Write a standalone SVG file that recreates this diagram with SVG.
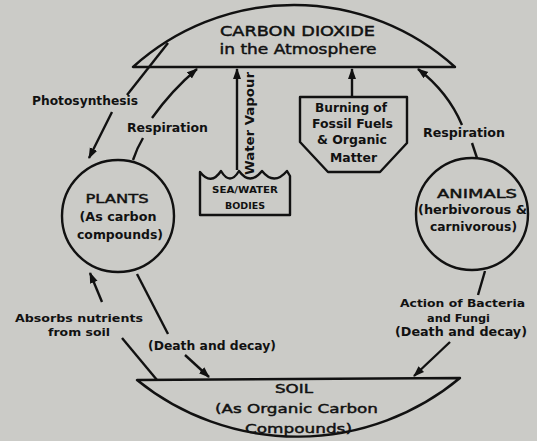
<svg xmlns="http://www.w3.org/2000/svg" width="537" height="441" viewBox="0 0 537 441">
<defs>
<marker id="ah" markerWidth="12" markerHeight="10" refX="10" refY="4" orient="auto" markerUnits="userSpaceOnUse">
<path d="M0,0 L11,4 L0,8 Z" fill="#111"/>
</marker>
<style>
.s{fill:none;stroke:#111;stroke-width:2.4;stroke-linejoin:round}
.c{stroke:#111;stroke-width:2.4;fill:none}
.t{font-family:"DejaVu Sans","Liberation Sans",sans-serif;fill:#111;text-anchor:middle}
.r{stroke:#111;stroke-width:0.45}
.b{font-weight:bold}
</style>
</defs>
<rect width="537" height="441" fill="#cbcbc7"/>
<g id="atmosphere">
<path class="s" d="M133,67 L455,67 A240,240 0 0 0 133,67 Z"/>
<text class="t r" x="297.5" y="36" font-size="14" textLength="155" lengthAdjust="spacingAndGlyphs">CARBON DIOXIDE</text>
<text class="t r" x="298" y="54" font-size="14" textLength="157" lengthAdjust="spacingAndGlyphs">in the Atmosphere</text>
</g>
<g id="plants">
<circle class="s" cx="118" cy="216" r="56"/>
<text class="t r" x="117" y="203" font-size="13" textLength="63" lengthAdjust="spacingAndGlyphs">PLANTS</text>
<text class="t b" x="118" y="221" font-size="11.5" textLength="77" lengthAdjust="spacingAndGlyphs">(As carbon</text>
<text class="t b" x="120" y="239" font-size="11.5" textLength="86" lengthAdjust="spacingAndGlyphs">compounds)</text>
</g>
<g id="animals">
<circle class="s" cx="472" cy="214" r="56"/>
<text class="t r" x="477" y="198" font-size="13" textLength="80" lengthAdjust="spacingAndGlyphs">ANIMALS</text>
<text class="t b" x="472.5" y="214" font-size="11.5" textLength="109" lengthAdjust="spacingAndGlyphs">(herbivorous &amp;</text>
<text class="t b" x="473.5" y="231" font-size="11.5" textLength="87" lengthAdjust="spacingAndGlyphs">carnivorous)</text>
</g>
<g id="sea">
<path class="s" d="M200,215 V172 Q211,186 221,171 Q230,186 239,171 Q250,186 262,171 Q274,186 287,171 L290,176 V215 Z"/>
<text class="t b" x="245" y="193" font-size="9.5" textLength="66" lengthAdjust="spacingAndGlyphs">SEA/WATER</text>
<text class="t b" x="245" y="209" font-size="9.5" textLength="40" lengthAdjust="spacingAndGlyphs">BODIES</text>
</g>
<g id="fossil">
<path class="s" d="M300,97 H407 V143 L380,172 H328 L300,142 Z"/>
<text class="t b" x="351" y="112" font-size="11.5" textLength="72" lengthAdjust="spacingAndGlyphs">Burning of</text>
<text class="t b" x="352.5" y="128" font-size="11.5" textLength="81" lengthAdjust="spacingAndGlyphs">Fossil Fuels</text>
<text class="t b" x="352" y="144" font-size="11.5" textLength="70" lengthAdjust="spacingAndGlyphs">&amp; Organic</text>
<text class="t b" x="353.5" y="162" font-size="11.5" textLength="47" lengthAdjust="spacingAndGlyphs">Matter</text>
</g>
<g id="soil">
<path class="s" d="M137,380 L460,378 A255,255 0 0 1 137,380 Z"/>
<text class="t r" x="294" y="393" font-size="12.5" textLength="38" lengthAdjust="spacingAndGlyphs">SOIL</text>
<text class="t r" x="296.5" y="413" font-size="13" textLength="163" lengthAdjust="spacingAndGlyphs">(As Organic Carbon</text>
<text class="t r" x="298.5" y="433" font-size="13" textLength="107" lengthAdjust="spacingAndGlyphs">Compounds)</text>
</g>
<g id="connectors">
<path class="c" d="M168,43 L127,95"/>
<path class="c" d="M112,112 L89,158" marker-end="url(#ah)"/>
<path class="c" d="M133,160 Q137,148 143,138"/>
<path class="c" d="M152,118 Q172,90 197,69" marker-end="url(#ah)"/>
<path class="c" d="M237,170 L237,69" marker-end="url(#ah)"/>
<path class="c" d="M352,96 L352,69" marker-end="url(#ah)"/>
<path class="c" d="M462,125 Q448,92 418,69" marker-end="url(#ah)"/>
<path class="c" d="M472,143 L477,158"/>
<path class="c" d="M485,271 L478,295"/>
<path class="c" d="M450,342 L414,376" marker-end="url(#ah)"/>
<path class="c" d="M157,380 L122,338"/>
<path class="c" d="M102,302 L90,273" marker-end="url(#ah)"/>
<path class="c" d="M137,274 L168,334"/>
<path class="c" d="M185,355 L209,377" marker-end="url(#ah)"/>
</g>
<g id="labels">
<text class="t b" x="85" y="105" font-size="11.5" textLength="106" lengthAdjust="spacingAndGlyphs">Photosynthesis</text>
<text class="t b" x="167.5" y="132" font-size="12" textLength="81" lengthAdjust="spacingAndGlyphs">Respiration</text>
<text class="t b" x="464" y="137" font-size="12" textLength="82" lengthAdjust="spacingAndGlyphs">Respiration</text>
<text class="t b" transform="translate(254,123.5) rotate(-90)" x="0" y="0" font-size="12" textLength="103" lengthAdjust="spacingAndGlyphs">Water Vapour</text>
<text class="t b" x="79" y="322" font-size="11" textLength="128" lengthAdjust="spacingAndGlyphs">Absorbs nutrients</text>
<text class="t b" x="79" y="336" font-size="11" textLength="62" lengthAdjust="spacingAndGlyphs">from soil</text>
<text class="t b" x="212" y="350" font-size="11.5" textLength="128" lengthAdjust="spacingAndGlyphs">(Death and decay)</text>
<text class="t b" x="462.5" y="307" font-size="11" textLength="125" lengthAdjust="spacingAndGlyphs">Action of Bacteria</text>
<text class="t b" x="458.5" y="322" font-size="11" textLength="63" lengthAdjust="spacingAndGlyphs">and Fungi</text>
<text class="t b" x="461" y="336" font-size="11.5" textLength="132" lengthAdjust="spacingAndGlyphs">(Death and decay)</text>
</g>
</svg>
